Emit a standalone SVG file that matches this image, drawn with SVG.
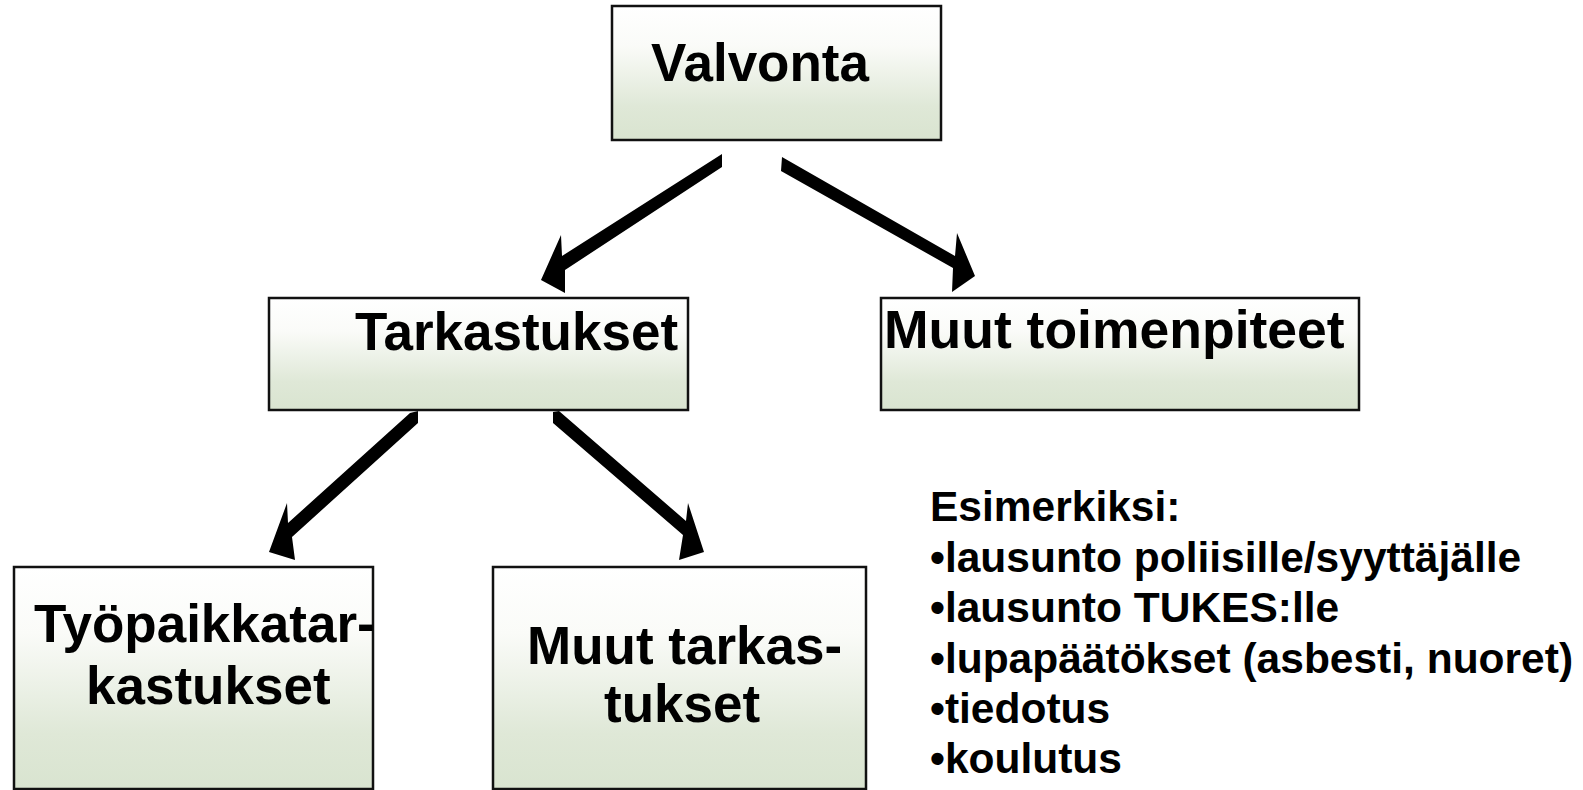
<svg xmlns="http://www.w3.org/2000/svg" width="1583" height="790" viewBox="0 0 1583 790">
  <style>
    .box { fill: url(#grad); stroke: #111; stroke-width: 2.5; }
    .lbl { font-family: "Liberation Sans", Arial, sans-serif; font-weight: bold; font-size: 53px; fill: #000; }
    .list { font-family: "Liberation Sans", Arial, sans-serif; font-weight: bold; font-size: 42.5px; fill: #000; }
    .arrow { fill: #000; stroke: none; }
  </style>
  <defs>
    <linearGradient id="grad" x1="0" y1="0" x2="0" y2="1">
      <stop offset="0" stop-color="#ffffff"/>
      <stop offset="0.3" stop-color="#fafbf8"/>
      <stop offset="0.75" stop-color="#dfe8d7"/>
      <stop offset="1" stop-color="#d9e4d0"/>
    </linearGradient>
  </defs>
  <rect width="1583" height="790" fill="#ffffff"/>

  <g id="connectors">
    <polygon class="arrow" points="722,154 722,167 565,270 565,293 541,280 561,235 562,256"/>
    <polygon class="arrow" points="782,157 955,256 957,233 975,276 952,292 953,268 781,171"/>
    <polygon class="arrow" points="418,411 418,423 292,537 295,560 269,552 287,503 288,523 410,413"/>
    <polygon class="arrow" points="553,412 559,411 686,521 688,503 704,552 679,560 683,535 553,423"/>
  </g>

  <g id="valvonta">
    <rect class="box" x="612" y="6" width="329" height="134"/>
    <text class="lbl" x="651" y="81">Valvonta</text>
  </g>

  <g id="tarkastukset">
    <rect class="box" x="269" y="298" width="419" height="112"/>
    <text class="lbl" x="355" y="350">Tarkastukset</text>
  </g>

  <g id="muut-toimenpiteet">
    <rect class="box" x="881" y="298" width="478" height="112"/>
    <text class="lbl" x="884" y="348" style="font-size:53.5px">Muut toimenpiteet</text>
  </g>

  <g id="tyopaikkatarkastukset">
    <rect class="box" x="14" y="567" width="359" height="222"/>
    <text class="lbl" x="34" y="642">Työpaikkatar-</text>
    <text class="lbl" x="86" y="704">kastukset</text>
  </g>

  <g id="muut-tarkastukset">
    <rect class="box" x="493" y="567" width="373" height="222"/>
    <text class="lbl" x="527" y="664">Muut tarkas-</text>
    <text class="lbl" x="604" y="722">tukset</text>
  </g>

  <g id="esimerkiksi">
    <text class="list" x="930" y="521">Esimerkiksi:</text>
    <text class="list" x="930" y="572">•lausunto poliisille/syyttäjälle</text>
    <text class="list" x="930" y="622">•lausunto TUKES:lle</text>
    <text class="list" x="930" y="673">•lupapäätökset (asbesti, nuoret)</text>
    <text class="list" x="930" y="723">•tiedotus</text>
    <text class="list" x="930" y="773">•koulutus</text>
  </g>
</svg>
